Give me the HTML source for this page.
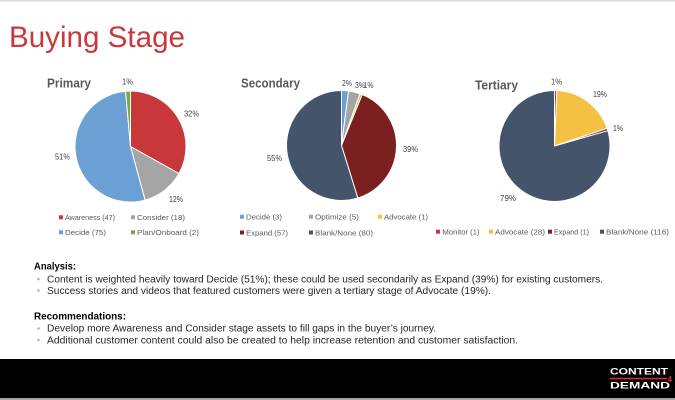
<!DOCTYPE html>
<html>
<head>
<meta charset="utf-8">
<style>
  html, body { margin:0; padding:0; background:#fff; }
  body { width:675px; height:400px; overflow:hidden; }
  svg { display:block; }
  text { font-family: "Liberation Sans", "DejaVu Sans", sans-serif; }
</style>
</head>
<body>
<svg width="675" height="400" viewBox="0 0 675 400" xmlns="http://www.w3.org/2000/svg">
  <rect x="0" y="0" width="675" height="400" fill="#ffffff"/>
  <rect x="0" y="0" width="675" height="1.5" fill="#d9d9d9"/>

  <!-- Title -->
  <text x="9" y="47" font-size="30" fill="#C9393B" textLength="176" lengthAdjust="spacingAndGlyphs">Buying Stage</text>

  <!-- Chart titles -->
  <text x="47" y="87.5" font-size="12.5" font-weight="bold" fill="#595959" textLength="44" lengthAdjust="spacingAndGlyphs">Primary</text>
  <text x="241" y="87.5" font-size="12.5" font-weight="bold" fill="#595959" textLength="59" lengthAdjust="spacingAndGlyphs">Secondary</text>
  <text x="475" y="89.5" font-size="12.5" font-weight="bold" fill="#595959" textLength="43" lengthAdjust="spacingAndGlyphs">Tertiary</text>

  <!-- Primary pie -->
  <g stroke="#ffffff" stroke-width="1" stroke-linejoin="round">
    <path d="M130.5 146.5 L130.5 91 A55.5 55.5 0 0 1 178.97 173.53 Z" fill="#C8383A"/>
    <path d="M130.5 146.5 L178.97 173.53 A55.5 55.5 0 0 1 145.06 200.06 Z" fill="#A5A5A5"/>
    <path d="M130.5 146.5 L145.06 200.06 A55.5 55.5 0 1 1 125.59 91.22 Z" fill="#6C9FD4"/>
    <path d="M130.5 146.5 L125.59 91.22 A55.5 55.5 0 0 1 130.5 91 Z" fill="#70AD47"/>
  </g>
  <g font-size="8" fill="#404040">
    <text x="122" y="84.5" textLength="11" lengthAdjust="spacingAndGlyphs">1%</text>
    <text x="184" y="116.5" textLength="15" lengthAdjust="spacingAndGlyphs">32%</text>
    <text x="55" y="159.5" textLength="15" lengthAdjust="spacingAndGlyphs">51%</text>
    <text x="169" y="202" textLength="14" lengthAdjust="spacingAndGlyphs">12%</text>
  </g>
  <!-- Primary legend -->
  <g font-size="7.5" fill="#595959">
    <rect x="59" y="215.3" width="4" height="4" fill="#C8383A"/>
    <text x="65" y="220" textLength="50" lengthAdjust="spacingAndGlyphs">Awareness (47)</text>
    <rect x="131" y="215.3" width="4" height="4" fill="#A5A5A5"/>
    <text x="137" y="220" textLength="48" lengthAdjust="spacingAndGlyphs">Consider (18)</text>
    <rect x="59" y="230.3" width="4" height="4" fill="#6C9FD4"/>
    <text x="65" y="235" textLength="41" lengthAdjust="spacingAndGlyphs">Decide (75)</text>
    <rect x="131" y="230.3" width="4" height="4" fill="#70AD47"/>
    <text x="137" y="235" textLength="62" lengthAdjust="spacingAndGlyphs">Plan/Onboard (2)</text>
  </g>

  <!-- Secondary pie -->
  <g stroke="#ffffff" stroke-width="1" stroke-linejoin="round">
    <path d="M341.5 145.5 L341.5 90.5 A55 55 0 0 1 348.58 90.96 Z" fill="#6C9FD4"/>
    <path d="M341.5 145.5 L348.58 90.96 A55 55 0 0 1 360.06 93.73 Z" fill="#A5A5A5"/>
    <path d="M341.5 145.5 L360.06 93.73 A55 55 0 0 1 362.27 94.58 Z" fill="#F4C142"/>
    <path d="M341.5 145.5 L362.27 94.58 A55 55 0 0 1 357.82 198.03 Z" fill="#7B2021"/>
    <path d="M341.5 145.5 L357.82 198.03 A55 55 0 1 1 341.5 90.5 Z" fill="#44546A"/>
  </g>
  <g font-size="8" fill="#404040">
    <text x="342" y="86" textLength="10" lengthAdjust="spacingAndGlyphs">2%</text>
    <text x="355" y="88" textLength="10" lengthAdjust="spacingAndGlyphs">3%</text>
    <text x="363.5" y="88" textLength="10" lengthAdjust="spacingAndGlyphs">1%</text>
    <text x="403" y="152" textLength="15" lengthAdjust="spacingAndGlyphs">39%</text>
    <text x="267" y="161" textLength="15" lengthAdjust="spacingAndGlyphs">55%</text>
  </g>
  <g font-size="7.5" fill="#595959">
    <rect x="240" y="214.7" width="4" height="4" fill="#6C9FD4"/>
    <text x="246" y="219.5" textLength="36" lengthAdjust="spacingAndGlyphs">Decide (3)</text>
    <rect x="309" y="214.7" width="4" height="4" fill="#A5A5A5"/>
    <text x="315" y="219.5" textLength="44" lengthAdjust="spacingAndGlyphs">Optimize (5)</text>
    <rect x="378" y="214.7" width="4" height="4" fill="#F4C142"/>
    <text x="384" y="219.5" textLength="44" lengthAdjust="spacingAndGlyphs">Advocate (1)</text>
    <rect x="240" y="230.5" width="4" height="4" fill="#7B2021"/>
    <text x="246" y="235.3" textLength="42" lengthAdjust="spacingAndGlyphs">Expand (57)</text>
    <rect x="309" y="230.5" width="4" height="4" fill="#44546A"/>
    <text x="315" y="235.3" textLength="58" lengthAdjust="spacingAndGlyphs">Blank/None (80)</text>
  </g>

  <!-- Tertiary pie -->
  <g stroke="#ffffff" stroke-width="1" stroke-linejoin="round">
    <path d="M554.5 146 L554.5 90.5 A55.5 55.5 0 0 1 556.89 90.55 Z" fill="#C8383A"/>
    <path d="M554.5 146 L556.89 90.55 A55.5 55.5 0 0 1 607.13 128.40 Z" fill="#F4C142"/>
    <path d="M554.5 146 L607.13 128.40 A55.5 55.5 0 0 1 607.84 130.68 Z" fill="#7B2021"/>
    <path d="M554.5 146 L607.84 130.68 A55.5 55.5 0 1 1 554.5 90.5 Z" fill="#44546A"/>
  </g>
  <g font-size="8" fill="#404040">
    <text x="551" y="84.5" textLength="11" lengthAdjust="spacingAndGlyphs">1%</text>
    <text x="593" y="97" textLength="14" lengthAdjust="spacingAndGlyphs">19%</text>
    <text x="613" y="131" textLength="10" lengthAdjust="spacingAndGlyphs">1%</text>
    <text x="500" y="201" textLength="16" lengthAdjust="spacingAndGlyphs">79%</text>
  </g>
  <g font-size="7.5" fill="#595959">
    <rect x="436" y="229.7" width="4" height="4" fill="#C8383A"/>
    <text x="442.5" y="234.5" textLength="37" lengthAdjust="spacingAndGlyphs">Monitor (1)</text>
    <rect x="489" y="229.7" width="4" height="4" fill="#F4C142"/>
    <text x="495" y="234.5" textLength="50" lengthAdjust="spacingAndGlyphs">Advocate (28)</text>
    <rect x="548" y="229.7" width="4" height="4" fill="#7B2021"/>
    <text x="554" y="234.5" textLength="35" lengthAdjust="spacingAndGlyphs">Expand (1)</text>
    <rect x="600" y="229.7" width="4" height="4" fill="#44546A"/>
    <text x="606" y="234.5" textLength="63" lengthAdjust="spacingAndGlyphs">Blank/None (116)</text>
  </g>

  <!-- Analysis text -->
  <text x="34" y="269.5" font-size="10.5" font-weight="bold" fill="#000" textLength="42" lengthAdjust="spacingAndGlyphs">Analysis:</text>
  <g fill="#b3b3b3">
    <circle cx="38.5" cy="279" r="1.3"/>
    <circle cx="38.5" cy="290.5" r="1.3"/>
    <circle cx="38.5" cy="328.5" r="1.3"/>
    <circle cx="38.5" cy="340" r="1.3"/>
  </g>
  <g font-size="10" fill="#262626">
    <text x="47" y="282.5" textLength="556" lengthAdjust="spacingAndGlyphs">Content is weighted heavily toward Decide (51%); these could be used secondarily as Expand (39%) for existing customers.</text>
    <text x="47" y="294" textLength="444" lengthAdjust="spacingAndGlyphs">Success stories and videos that featured customers were given a tertiary stage of Advocate (19%).</text>
  </g>
  <text x="34" y="319.5" font-size="10.5" font-weight="bold" fill="#000" textLength="92" lengthAdjust="spacingAndGlyphs">Recommendations:</text>
  <g font-size="10" fill="#262626">
    <text x="47" y="331.5" textLength="389" lengthAdjust="spacingAndGlyphs">Develop more Awareness and Consider stage assets to fill gaps in the buyer’s journey.</text>
    <text x="47" y="343.5" textLength="471" lengthAdjust="spacingAndGlyphs">Additional customer content could also be created to help increase retention and customer satisfaction.</text>
  </g>

  <!-- Footer -->
  <rect x="0" y="359" width="675" height="39" fill="#000000"/>
  <rect x="0" y="398" width="675" height="2" fill="#a6a6a6"/>
  <text x="610" y="374.5" font-size="9.5" font-weight="bold" fill="#ffffff" textLength="58" lengthAdjust="spacingAndGlyphs">CONTENT</text>
  <rect x="610" y="377.8" width="57" height="1.5" fill="#D9302B"/>
  <text x="667.5" y="382" font-size="8" font-weight="bold" fill="#D9302B">4</text>
  <text x="610" y="388.5" font-size="9.5" font-weight="bold" fill="#ffffff" textLength="60" lengthAdjust="spacingAndGlyphs">DEMAND</text>
</svg>
</body>
</html>
